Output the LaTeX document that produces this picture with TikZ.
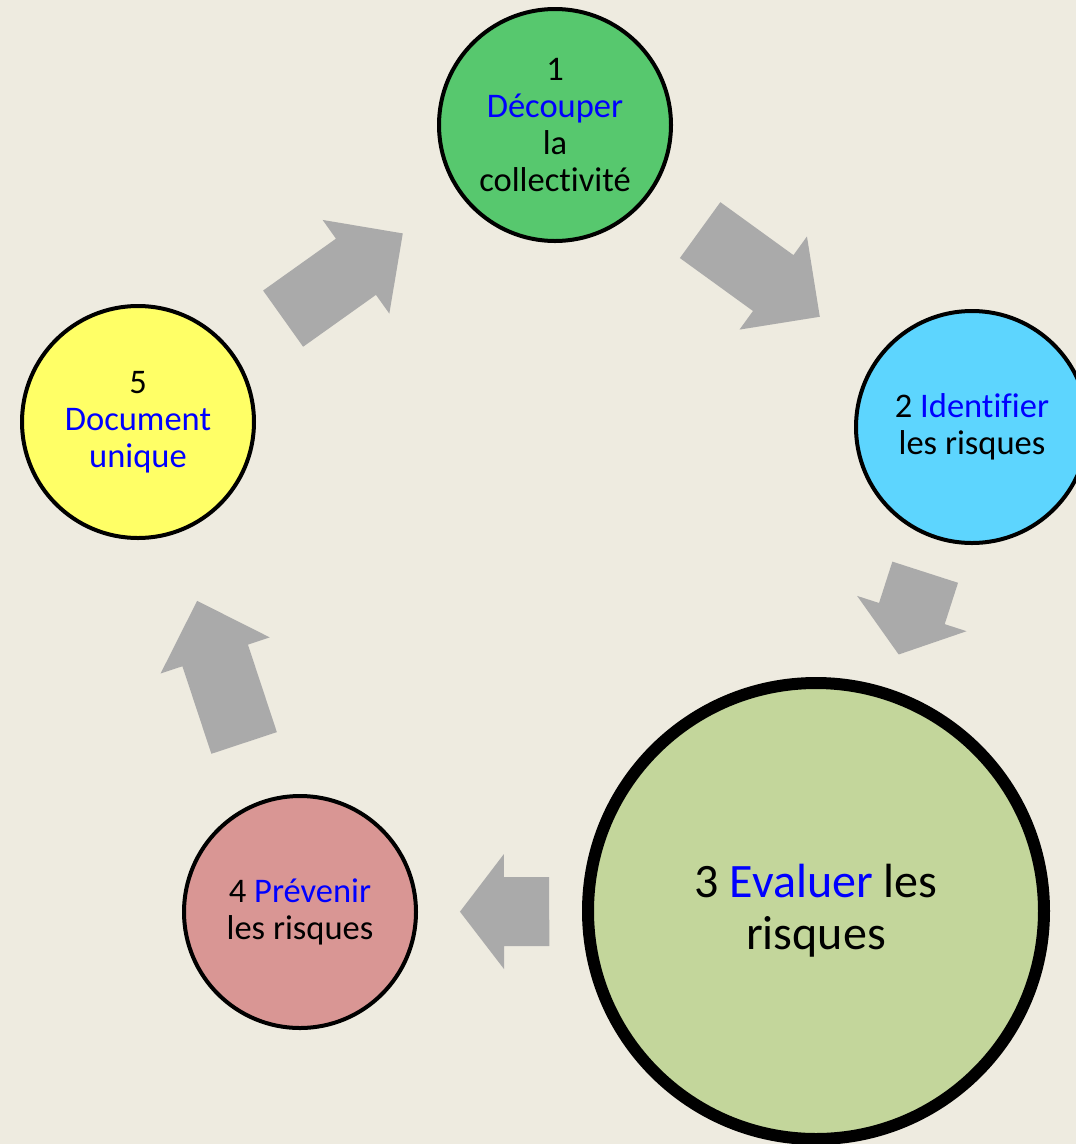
\documentclass[tikz,border=0pt]{standalone}
\usepackage{fontspec}
\setmainfont{Carlito}[Ligatures=NoCommon]
\usepackage{xcolor}
\usetikzlibrary{shapes,calc}
\definecolor{bgcream}{HTML}{EEEBE0}
\definecolor{greenstage}{HTML}{57C86E}
\definecolor{cyanstage}{HTML}{5DD5FE}
\definecolor{olivestage}{HTML}{C3D69B}
\definecolor{pinkstage}{HTML}{D99694}
\definecolor{yellowstage}{HTML}{FFFF66}
\definecolor{arrowgrey}{HTML}{AAAAAA}
\definecolor{keyblue}{HTML}{0000FF}
\tikzstyle{stage} = [circle, draw=black, line width=4pt, minimum size=232pt, inner sep=0pt, align=center, font=\fontsize{34.5}{37}\selectfont]
\tikzstyle{bigstage} = [stage, line width=12pt, minimum size=456pt, font=\fontsize{48}{52}\selectfont]
\newcommand{\kw}[1]{\textcolor{keyblue}{#1}}
% block arrow: name, tail, tip, head length
\newcommand{\blockarrow}[4]{%
  \coordinate (#1-b) at ($(#3)!#4!(#2)$);
  \fill[arrowgrey] ($(#2)!34.5pt!90:(#3)$) -- ($(#1-b)!34.5pt!90:(#3)$) -- ($(#1-b)!57.5pt!90:(#3)$) -- (#3)
    -- ($(#1-b)!57.5pt!-90:(#3)$) -- ($(#1-b)!34.5pt!-90:(#3)$) -- ($(#2)!34.5pt!-90:(#3)$) -- cycle;
}
\begin{document}
\begin{tikzpicture}[x=1pt, y=-1pt]
  \useasboundingbox (0,0) rectangle (1076,1144);
  \fill[bgcream] (0,0) rectangle (1076,1144);
  % stages
  \node[stage, fill=greenstage] (c1) at (555,125) {1\\\kw{Découper}\\la\\collectivité};
  \node[stage, fill=cyanstage] (c2) at (972,427) {2 \kw{Identifier}\\les risques};
  \node[bigstage, fill=olivestage] (c3) at (816,911) {3 \kw{Evaluer} les\\risques};
  \node[stage, fill=pinkstage] (c4) at (300,912) {4 \kw{Prévenir}\\les risques};
  \node[stage, fill=yellowstage] (c5) at (138,422) {5\\\kw{Document}\\\kw{unique}};
  % arrow ends
  \coordinate (t12) at ($(c1)!0.348!(c2)$);
  \coordinate (p12) at ($(c1)!0.635!(c2)$);
  \coordinate (t23) at ($(c2)!0.300!(c3)$);
  \coordinate (p23) at ($(c2)!0.470!(c3)$);
  \coordinate (t34) at ($(c3)!0.517!(c4)$);
  \coordinate (p34) at ($(c3)!0.690!(c4)$);
  \coordinate (t45) at ($(c4)!0.345!(c5)$);
  \coordinate (p45) at ($(c4)!0.635!(c5)$);
  \coordinate (t51) at ($(c5)!0.348!(c1)$);
  \coordinate (p51) at ($(c5)!0.635!(c1)$);
  % arrows
  \blockarrow{a12}{t12}{p12}{57.5pt}
  \blockarrow{a23}{t23}{p23}{43pt}
  \blockarrow{a34}{t34}{p34}{44pt}
  \blockarrow{a45}{t45}{p45}{57.5pt}
  \blockarrow{a51}{t51}{p51}{57.5pt}
\end{tikzpicture}
\end{document}
